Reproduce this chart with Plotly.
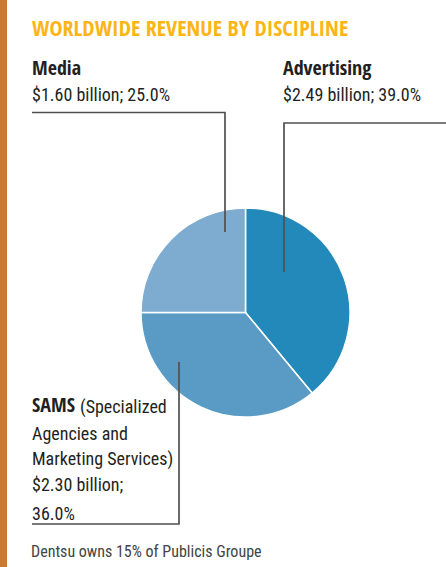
import plotly.graph_objects as go

W, H = 446, 567

labels = ["Advertising", "SAMS", "Media"]
values = [39.0, 36.0, 25.0]
billions = [2.49, 2.30, 1.60]
colors = ["#2389BA", "#5A9BC5", "#7DACD0"]

title_text = "WORLDWIDE REVENUE BY DISCIPLINE"
sams_full = ["(Specialized", "Agencies and", "Marketing Services)"]
footnote = "Dentsu owns 15% of Publicis Groupe"

def px(x):
    return x / W

def py(y):
    return 1 - y / H

fig = go.Figure()
fig.add_trace(go.Pie(
    labels=labels, values=values, sort=False, direction="clockwise", rotation=0,
    marker=dict(colors=colors, line=dict(color="white", width=1.5)),
    textinfo="none", hoverinfo="label+percent", showlegend=False,
    domain=dict(x=[px(141), px(350)], y=[py(417), py(208)]),
))

HEAD = "Open Sans Condensed, Roboto Condensed, DejaVu Sans Condensed, sans-serif"
BODY = "Roboto Condensed, DejaVu Sans Condensed, sans-serif"
TXT = "#231F20"
annos = []

def add(text, x, baseline, size, family=BODY, color=TXT):
    annos.append(dict(text=text, x=px(x), y=py(baseline + 0.26 * size),
                      xref="paper", yref="paper", xanchor="left", yanchor="bottom",
                      showarrow=False, font=dict(family=family, size=size, color=color),
                      borderpad=0))

def bold(t):
    return "<b>%s</b>" % t

add(bold(title_text), 31, 37, 22, family=HEAD, color="#FDB515")

# Media
add(bold(labels[2]), 31, 77, 20, family=HEAD)
add("$%.2f billion; %.1f%%" % (billions[2], values[2]), 31, 101, 18)
# Advertising
add(bold(labels[0]), 282, 77, 20, family=HEAD)
add("$%.2f billion; %.1f%%" % (billions[0], values[0]), 282, 101, 18)
# SAMS
add(bold(labels[1]), 31, 414, 20, family=HEAD)
add(sams_full[0], 79, 414, 18)
sams_rest = [sams_full[1], sams_full[2], "$%.2f billion;" % billions[1], "%.1f%%" % values[1]]
for t, b in zip(sams_rest, [440, 466, 491, 520]):
    add(t, 31, b, 18)

add(footnote, 30, 558, 16, color="#444444")

line = dict(color="#505050", width=1.7)
shapes = [
    dict(type="rect", xref="paper", yref="paper", x0=0, x1=px(7), y0=0, y1=1,
         fillcolor="#CC7A30", line=dict(width=0)),
    dict(type="path", xref="paper", yref="paper",
         path="M %f %f L %f %f L %f %f" % (px(32), py(112.5), px(225), py(112.5), px(225), py(232)),
         line=line),
    dict(type="path", xref="paper", yref="paper",
         path="M %f %f L %f %f L %f %f" % (px(446), py(123), px(284), py(123), px(284), py(272)),
         line=line),
    dict(type="path", xref="paper", yref="paper",
         path="M %f %f L %f %f L %f %f" % (px(179), py(362), px(179), py(524), px(32), py(524)),
         line=line),
]

fig.update_layout(width=W, height=H, margin=dict(l=0, r=0, t=0, b=0),
                  paper_bgcolor="white", plot_bgcolor="white",
                  annotations=annos, shapes=shapes)
fig.write_html("out.html", config={"displayModeBar": False},
               post_script="document.body.style.margin='0';")
